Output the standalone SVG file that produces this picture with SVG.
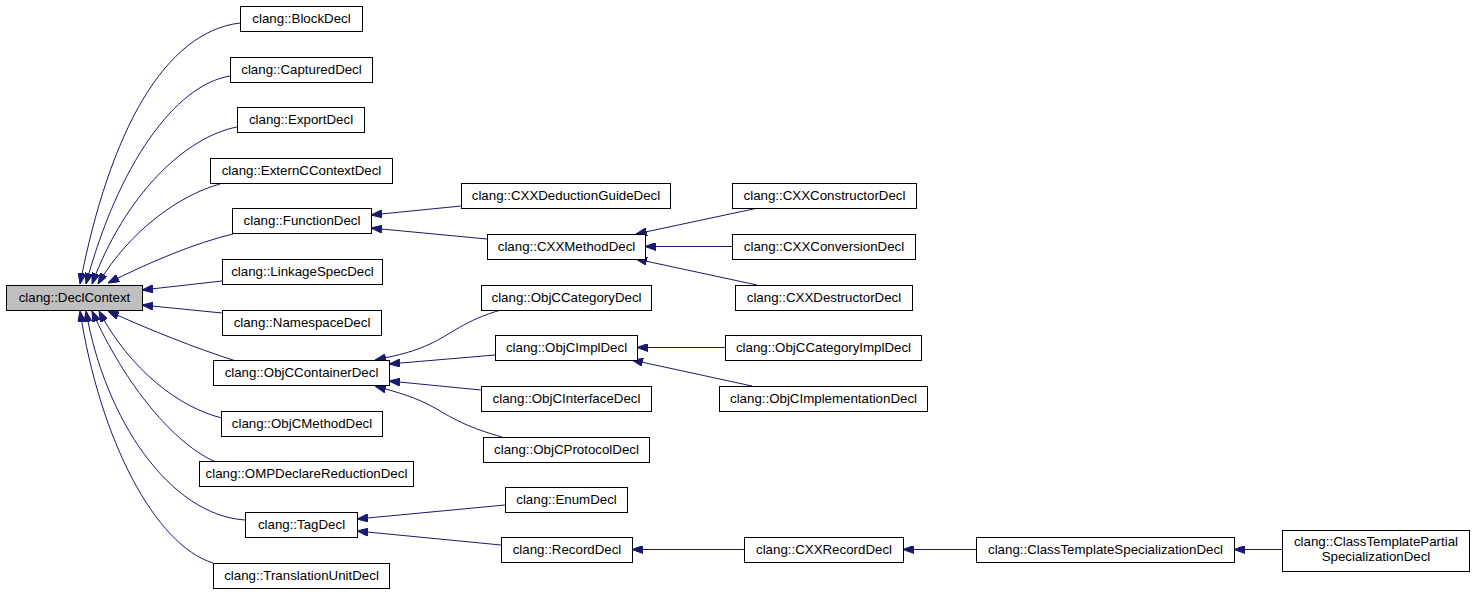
<svg xmlns="http://www.w3.org/2000/svg" width="1475" height="595" viewBox="0 0 1475 595">
<style>
.n rect{fill:#fff;stroke:#000;stroke-width:1}
.n text{font-family:"Liberation Sans",Arial,sans-serif;font-size:13.3px;text-anchor:middle;fill:#000}
#edges path{fill:none;stroke:#191970;stroke-width:1;marker-end:url(#arr)}
</style>
<defs>
<marker id="arr" viewBox="0 0 11 8" refX="11" refY="4" markerWidth="11" markerHeight="8" markerUnits="userSpaceOnUse" orient="auto">
<path d="M0,0 L11,4 L0,8 z" fill="#191970" stroke="#191970" stroke-width="1"/>
</marker>
</defs>
<rect width="1475" height="595" fill="#fff"/>
<g id="edges">
<path d="M240,23 C165,32 110,130 80,284"/>
<path d="M230,76 C175,85 118,165 86,284"/>
<path d="M237,127 C185,137 125,195 92,284"/>
<path d="M220,184 C180,195 130,230 98,284"/>
<path d="M233,234 C195,243 150,262 108,283"/>
<path d="M222,281 L142,290"/>
<path d="M222,313 L142,305"/>
<path d="M236,361 C195,348 150,330 108,311"/>
<path d="M222,418 C180,408 130,370 99,311"/>
<path d="M216,462 C175,445 125,385 92,311"/>
<path d="M245,520 C170,515 105,420 86,311"/>
<path d="M213,563 C155,545 100,440 80,311"/>
<path d="M461,206 L371,215"/>
<path d="M487,239 L371,228"/>
<path d="M758,208 L636,234"/>
<path d="M732,246.5 L645,246.5"/>
<path d="M757,285 L636,259"/>
<path d="M501,310 C465,320 450,335 430,344 C415,351 400,355 375,360"/>
<path d="M495,355 L389,364"/>
<path d="M481,390 L389,381"/>
<path d="M502,437 C470,428 455,420 435,408 C415,397 400,393 375,386"/>
<path d="M725,347.5 L637,347.5"/>
<path d="M752,386 L632,360"/>
<path d="M505,505 L357,519"/>
<path d="M501,545 L357,531"/>
<path d="M744,549.5 L632,549.5"/>
<path d="M976,549.5 L903,549.5"/>
<path d="M1282,549.5 L1234,549.5"/>
</g>
<g id="DeclContext" class="n"><rect x="6.5" y="285.5" width="136" height="25" style="fill:#bfbfbf"/><text x="74.5" y="302">clang::DeclContext</text></g>
<g id="BlockDecl" class="n"><rect x="240.5" y="6.5" width="122" height="25"/><text x="301.5" y="23">clang::BlockDecl</text></g>
<g id="CapturedDecl" class="n"><rect x="230.5" y="57.5" width="142" height="25"/><text x="301.5" y="74">clang::CapturedDecl</text></g>
<g id="ExportDecl" class="n"><rect x="237.5" y="107.5" width="127" height="25"/><text x="301" y="124">clang::ExportDecl</text></g>
<g id="ExternCContextDecl" class="n"><rect x="210.5" y="158.5" width="182" height="25"/><text x="301.5" y="175">clang::ExternCContextDecl</text></g>
<g id="FunctionDecl" class="n"><rect x="232.5" y="208.5" width="139" height="25"/><text x="302" y="225">clang::FunctionDecl</text></g>
<g id="LinkageSpecDecl" class="n"><rect x="222.5" y="259.5" width="160" height="25"/><text x="302.5" y="276">clang::LinkageSpecDecl</text></g>
<g id="NamespaceDecl" class="n"><rect x="222.5" y="310.5" width="159" height="25"/><text x="302" y="327">clang::NamespaceDecl</text></g>
<g id="ObjCContainerDecl" class="n"><rect x="213.5" y="360.5" width="176" height="25"/><text x="301.5" y="377">clang::ObjCContainerDecl</text></g>
<g id="ObjCMethodDecl" class="n"><rect x="221.5" y="411.5" width="161" height="25"/><text x="302" y="428">clang::ObjCMethodDecl</text></g>
<g id="OMPDeclareReductionDecl" class="n"><rect x="199.5" y="461.5" width="214" height="25"/><text x="306.5" y="478">clang::OMPDeclareReductionDecl</text></g>
<g id="TagDecl" class="n"><rect x="245.5" y="512.5" width="112" height="25"/><text x="301.5" y="529">clang::TagDecl</text></g>
<g id="TranslationUnitDecl" class="n"><rect x="213.5" y="563.5" width="176" height="25"/><text x="301.5" y="580">clang::TranslationUnitDecl</text></g>
<g id="CXXDeductionGuideDecl" class="n"><rect x="461.5" y="183.5" width="209" height="25"/><text x="566" y="200">clang::CXXDeductionGuideDecl</text></g>
<g id="CXXMethodDecl" class="n"><rect x="487.5" y="234.5" width="158" height="25"/><text x="566.5" y="251">clang::CXXMethodDecl</text></g>
<g id="ObjCCategoryDecl" class="n"><rect x="481.5" y="285.5" width="170" height="25"/><text x="566.5" y="302">clang::ObjCCategoryDecl</text></g>
<g id="ObjCImplDecl" class="n"><rect x="495.5" y="335.5" width="142" height="25"/><text x="566.5" y="352">clang::ObjCImplDecl</text></g>
<g id="ObjCInterfaceDecl" class="n"><rect x="481.5" y="386.5" width="170" height="25"/><text x="566.5" y="403">clang::ObjCInterfaceDecl</text></g>
<g id="ObjCProtocolDecl" class="n"><rect x="483.5" y="437.5" width="166" height="25"/><text x="566.5" y="454">clang::ObjCProtocolDecl</text></g>
<g id="EnumDecl" class="n"><rect x="505.5" y="487.5" width="122" height="25"/><text x="566.5" y="504">clang::EnumDecl</text></g>
<g id="RecordDecl" class="n"><rect x="501.5" y="537.5" width="131" height="25"/><text x="567" y="554">clang::RecordDecl</text></g>
<g id="CXXConstructorDecl" class="n"><rect x="732.5" y="183.5" width="184" height="25"/><text x="824.5" y="200">clang::CXXConstructorDecl</text></g>
<g id="CXXConversionDecl" class="n"><rect x="732.5" y="234.5" width="183" height="25"/><text x="824" y="251">clang::CXXConversionDecl</text></g>
<g id="CXXDestructorDecl" class="n"><rect x="735.5" y="285.5" width="177" height="25"/><text x="824" y="302">clang::CXXDestructorDecl</text></g>
<g id="ObjCCategoryImplDecl" class="n"><rect x="725.5" y="335.5" width="196" height="25"/><text x="823.5" y="352">clang::ObjCCategoryImplDecl</text></g>
<g id="ObjCImplementationDecl" class="n"><rect x="719.5" y="386.5" width="208" height="25"/><text x="823.5" y="403">clang::ObjCImplementationDecl</text></g>
<g id="CXXRecordDecl" class="n"><rect x="744.5" y="537.5" width="159" height="25"/><text x="824" y="554">clang::CXXRecordDecl</text></g>
<g id="ClassTemplateSpecializationDecl" class="n"><rect x="976.5" y="537.5" width="258" height="25"/><text x="1105.5" y="554">clang::ClassTemplateSpecializationDecl</text></g>
<g id="ClassTemplatePartialSpecializationDecl" class="n"><rect x="1282.5" y="530.5" width="187" height="41"/><text x="1376" y="546">clang::ClassTemplatePartial</text><text x="1376" y="561">SpecializationDecl</text></g>
</svg>
